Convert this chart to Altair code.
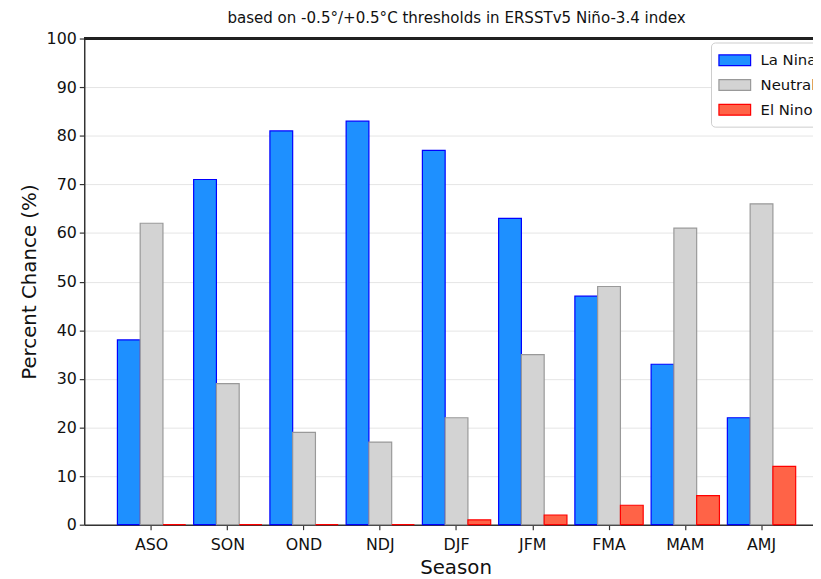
import altair as alt
import pandas as pd

seasons = ["ASO", "SON", "OND", "NDJ", "DJF", "JFM", "FMA", "MAM", "AMJ"]
la_nina = [38, 71, 81, 83, 77, 63, 47, 33, 22]
neutral = [62, 29, 19, 17, 22, 35, 49, 61, 66]
el_nino = [0, 0, 0, 0, 1, 2, 4, 6, 12]
categories = ["La Nina", "Neutral", "El Nino"]
fills = ["#1E90FF", "#D3D3D3", "#FF6347"]
edges = ["#0000FF", "#999999", "#FF0000"]

rows = []
for i, s in enumerate(seasons):
    rows.append({"Season": s, "Category": "La Nina", "Value": la_nina[i]})
    rows.append({"Season": s, "Category": "Neutral", "Value": neutral[i]})
    rows.append({"Season": s, "Category": "El Nino", "Value": el_nino[i]})
df = pd.DataFrame(rows)

FONT = "DejaVu Sans"

bars = alt.Chart(df).mark_bar(strokeWidth=1.2).encode(
    x=alt.X("Season:N", sort=seasons,
            scale=alt.Scale(paddingInner=0.104, paddingOuter=0.435, range=[0, 752]),
            axis=alt.Axis(title="Season", labelAngle=0, titleX=375, titleY=33,
                          titleBaseline="top", ticks=True, tickSize=5,
                          labelPadding=7, grid=False)),
    xOffset=alt.XOffset("Category:N", sort=categories,
                        scale=alt.Scale(paddingInner=0, paddingOuter=0)),
    y=alt.Y("Value:Q", scale=alt.Scale(domain=[0, 100], nice=False),
            axis=alt.Axis(title="Percent Chance (%)", values=list(range(0, 101, 10)),
                          tickSize=5, labelPadding=3, grid=True, titleX=-45)),
    fill=alt.Fill("Category:N", sort=categories,
                  scale=alt.Scale(domain=categories, range=fills),
                  legend=alt.Legend(title=None, orient="none", legendX=633, legendY=4,
                                    symbolType="M-2,-0.68H2V0.68H-2Z", symbolSize=256,
                                    symbolOffset=6,
                                    symbolStrokeWidth=1.2, labelFontSize=15,
                                    labelFont=FONT, labelColor="#111",
                                    fillColor="white", strokeColor="#cccccc",
                                    cornerRadius=4, padding=9, rowPadding=8,
                                    labelOffset=17)),
    stroke=alt.Stroke("Category:N", sort=categories,
                      scale=alt.Scale(domain=categories, range=edges),
                      legend=None),
)

spine = alt.Chart(df).mark_rule(color="#222", strokeWidth=1.5).encode(
    y=alt.datum(100), x=alt.value(0), x2=alt.value(760)
)

chart = alt.layer(bars, spine).properties(
    width=736, height=491,
    autosize=alt.AutoSizeParams(type="none"),
    padding={"left": 77, "top": 28, "right": 0, "bottom": 52},
    title=alt.Title("based on -0.5°/+0.5°C thresholds in ERSSTv5 Niño-3.4 index",
                    font=FONT, fontSize=15.2, fontWeight="normal", color="#111",
                    anchor="middle", frame="group", offset=4, dx=8),
).configure_view(stroke=None).configure_axis(
    labelFont=FONT, labelFontSize=16, labelColor="#111",
    titleFont=FONT, titleFontSize=20, titleFontWeight="normal", titleColor="#111",
    domainColor="#333", domainWidth=1.5, tickColor="#333", tickWidth=1.2,
    gridColor="#e5e5e5", gridWidth=1,
)

chart.save("out.html", embed_options={"renderer": "svg", "actions": False})
